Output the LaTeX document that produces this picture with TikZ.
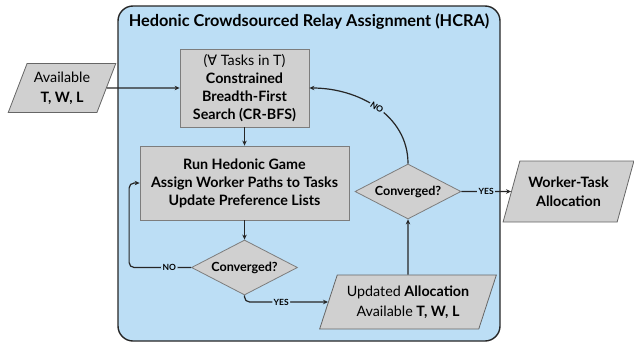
\documentclass[tikz,border=0pt]{standalone}
\usepackage{fontspec}
\setmainfont{Lato}
\newfontfamily\symfont{DejaVu Sans}
\usetikzlibrary{shapes.geometric,arrows.meta}

\definecolor{hcrablue}{RGB}{188,222,245}
\definecolor{boxgray}{RGB}{208,208,208}
\definecolor{edgegray}{RGB}{125,125,125}

\tikzset{
  procbox/.style={draw=edgegray, fill=boxgray, align=center, inner sep=1pt, line width=0.8pt,
    font=\fontsize{14.3}{18}\selectfont\bfseries},
  iobox/.style={trapezium, trapezium left angle=65, trapezium right angle=115,
    trapezium stretches=true, draw=black!60, fill=boxgray, align=center, inner sep=0pt, line width=0.8pt,
    font=\fontsize{14.3}{20}\selectfont},
  decision/.style={diamond, aspect=2, draw=edgegray, fill=boxgray, inner sep=0pt, line width=0.8pt,
    minimum width=106pt, minimum height=55pt, font=\fontsize{12.6}{14}\selectfont\bfseries},
  flow/.style={draw=black!85, line width=1.2pt, -{Stealth[length=5pt,width=4.5pt]}},
  lbl/.style={fill=hcrablue, inner sep=1.5pt, font=\fontsize{8.5}{10}\selectfont\bfseries}
}

\begin{document}
\begin{tikzpicture}[x=1pt,y=-1pt]
  \useasboundingbox (0,0) rectangle (634,348);
  % HCRA frame
  \draw[rounded corners=15pt, fill=hcrablue, draw=black!85, line width=1.4pt] (118,6) rectangle (500,341);
  \node[font=\fontsize{16.3}{20}\selectfont\bfseries] (title) at (309,22) {Hedonic Crowdsourced Relay Assignment (HCRA)};

  % boxes
  \node[iobox, minimum width=108pt, minimum height=49pt] (avail) at (62,88) {Available\\\textbf{T, W, L}};
  \node[procbox, minimum width=129pt, minimum height=78pt] (cr) at (244.5,88)
    {{\mdseries ({\symfont ∀} Tasks in T)}\\Constrained\\Breadth-First\\Search (CR-BFS)};
  \node[procbox, minimum width=209pt, minimum height=74pt] (hed) at (244.5,183)
    {Run Hedonic Game\\Assign Worker Paths to Tasks\\Update Preference Lists};
  \node[decision] (d1) at (244.5,267.5) {Converged?};
  \node[iobox, minimum width=177pt, minimum height=54pt] (upd) at (408,302)
    {Updated \textbf{Allocation}\\Available \textbf{T, W, L}};
  \node[decision] (d2) at (408,191.5) {Converged?};
  \node[iobox, minimum width=131pt, minimum height=61pt, font=\fontsize{14.3}{19}\selectfont\bfseries] (wt) at (568.5,191.5)
    {Worker-Task\\Allocation};

  % connectors
  \draw[flow] (avail.east) -- (cr.west);
  \draw[flow] (cr) -- (hed);
  \draw[flow] (hed) -- (d1);
  \draw[flow, rounded corners=5pt] (d1.west) -- node[lbl, pos=0.35]{NO} ++(-62,0) |- (hed.west);
  \draw[flow, rounded corners=5pt] (d1.south) |- node[lbl, pos=0.72]{YES} (upd.west);
  \draw[flow] (upd) -- (d2);
  \draw[flow] (d2.east) -- node[lbl]{YES} (wt.west);
  \draw[flow] (d2.north) to[out=90,in=0] node[lbl, sloped]{NO} (cr.east);
\end{tikzpicture}
\end{document}
